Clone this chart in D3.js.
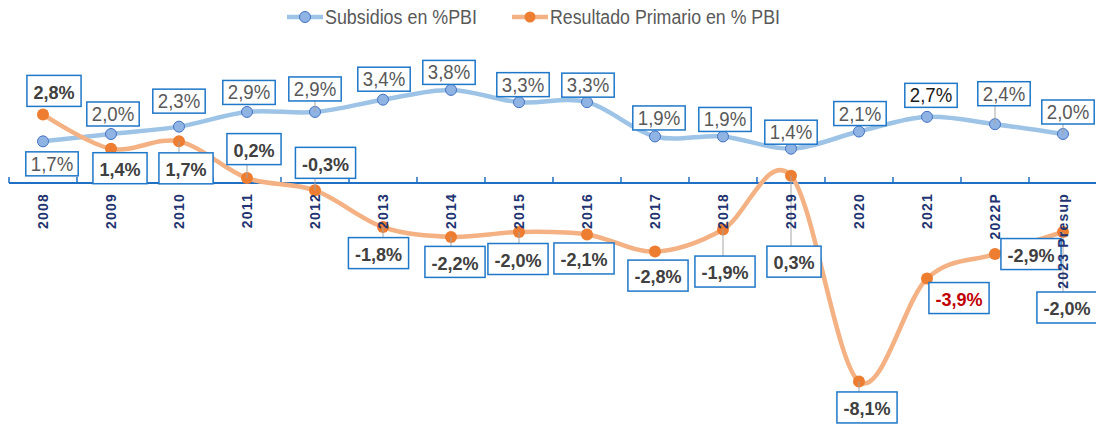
<!DOCTYPE html>
<html>
<head>
<meta charset="utf-8">
<script src="https://cdn.jsdelivr.net/npm/d3@7"></script>
<style>
  body { margin: 0; background: #fff; }
  text { font-family: "Liberation Sans", Arial, sans-serif; }
</style>
</head>
<body>
<div id="chart"></div>
<script>
// data
const years = ['2008','2009','2010','2011','2012','2013','2014','2015','2016','2017','2018','2019','2020','2021','2022P','2023 Presup'];
const subsidios = [1.7, 2.0, 2.3, 2.9, 2.9, 3.4, 3.8, 3.3, 3.3, 1.9, 1.9, 1.4, 2.1, 2.7, 2.4, 2.0];
const resultado = [2.8, 1.4, 1.7, 0.2, -0.3, -1.8, -2.2, -2.0, -2.1, -2.8, -1.9, 0.3, -8.1, -3.9, -2.9, -2.0];
const seriesNames = ['Subsidios en %PBI', 'Resultado Primario en % PBI'];

// where each data label sits, relative to its point (manual placement, like in Excel)
const subOffset = [[9,22.5],[2,-20],[0,-25.5],[2,-19.5],[0,-23],[1,-20.5],[-2,-17.5],[4,-17.5],[1,-17],[4,-18.5],[2,-17],[0,-16.5],[1,-18],[4,-21.5],[9,-30.5],[5,-22]];
const resOffset = [[11,-23.5],[9,19.5],[7,27],[7,-29],[10.5,-27.5],[-4.5,26],[4,25],[-1,27],[-3,24],[3,24],[2,42],[3,86],[8,26],[32,19.5],[36,0],[4,75.5]];
const subLeaders = [4, 14, 15];
const resLeaders = [2, 3, 4, 5, 6, 7, 10, 11, 12, 15];

const width = 1096, height = 424;

const x = d3.scaleBand().domain(years).range([9, 1097]);
const xi = d3.scaleLinear().domain([0, years.length]).range([9, 1097]);
const y = d3.scaleLinear().domain([-9, 5]).range([403.5, 60.5]);
const cx = i => x(years[i]) + x.bandwidth() / 2;

const fmt = d3.formatLocale({decimal: ',', thousands: '.', grouping: [3], currency: ['', ''], minus: '-'}).format('.1f');

const svg = d3.select('#chart').append('svg')
    .attr('width', width)
    .attr('height', height)
    .style('background', '#fff');

// zero axis line and ticks between categories
svg.append('line')
    .attr('x1', xi(0)).attr('x2', xi(years.length))
    .attr('y1', y(0)).attr('y2', y(0))
    .attr('stroke', '#1f6fc5')
    .attr('stroke-width', 2);

svg.selectAll('line.tk')
    .data(d3.range(years.length + 1))
    .enter().append('line')
    .attr('class', 'tk')
    .attr('x1', d => xi(d)).attr('x2', d => xi(d))
    .attr('y1', y(0)).attr('y2', y(0) - 6)
    .attr('stroke', '#1f6fc5')
    .attr('stroke-width', 1.5);

// smoothed lines
const line = d3.line()
    .x((d, i) => cx(i))
    .y(d => y(d))
    .curve(d3.curveCatmullRom.alpha(0));

svg.append('path')
    .datum(subsidios)
    .attr('d', line)
    .attr('fill', 'none')
    .attr('stroke', '#9dc3e6')
    .attr('stroke-width', 4.5);

svg.append('path')
    .datum(resultado)
    .attr('d', line)
    .attr('fill', 'none')
    .attr('stroke', '#f4b183')
    .attr('stroke-width', 4.5);

svg.selectAll('circle.sub')
    .data(subsidios)
    .enter().append('circle')
    .attr('class', 'sub')
    .attr('cx', (d, i) => cx(i))
    .attr('cy', d => y(d))
    .attr('r', 5.5)
    .attr('fill', '#8fb4e3')
    .attr('stroke', '#4472c4')
    .attr('stroke-width', 1);

svg.selectAll('circle.res')
    .data(resultado)
    .enter().append('circle')
    .attr('class', 'res')
    .attr('cx', (d, i) => cx(i))
    .attr('cy', d => y(d))
    .attr('r', 6)
    .attr('fill', '#ed7d31');

// data labels in boxes
const leaderG = svg.append('g');
const labelG = svg.append('g');

function drawLabels(values, offs, leaders, o) {
  values.forEach(function(v, i) {
    const px = cx(i), py = y(v);
    const lx = px + offs[i][0], ly = py + offs[i][1];
    const g = labelG.append('g');
    const rect = g.append('rect');
    const t = g.append('text')
        .attr('x', lx)
        .attr('y', ly + o.dy)
        .attr('dy', '0.35em')
        .attr('text-anchor', 'middle')
        .style('font-size', o.size + 'px')
        .style('font-weight', o.weight)
        .style('fill', o.color(i))
        .text(fmt(v) + '%');
    const tw = t.node().getComputedTextLength() * o.squeeze;
    t.attr('textLength', tw).attr('lengthAdjust', 'spacingAndGlyphs');
    const bw = tw + o.padX * 2, bh = o.boxH;
    rect.attr('x', lx - bw / 2).attr('y', ly - bh / 2)
        .attr('width', bw).attr('height', bh)
        .attr('fill', '#fff')
        .attr('stroke', '#1f77c8')
        .attr('stroke-width', 1.5);
    if (leaders.indexOf(i) >= 0) {
      const nx = Math.max(lx - bw / 2, Math.min(px, lx + bw / 2));
      const ny = Math.max(ly - bh / 2, Math.min(py, ly + bh / 2));
      leaderG.append('line')
          .attr('x1', px).attr('y1', py)
          .attr('x2', nx).attr('y2', ny)
          .attr('stroke', '#a6a6a6')
          .attr('stroke-width', 1);
    }
  });
}

drawLabels(subsidios, subOffset, subLeaders, {
  size: 20, weight: 'normal', squeeze: 0.93, padX: 5, boxH: 24, dy: 0,
  color: i => i === 13 ? '#1a1a1a' : '#595959'
});
drawLabels(resultado, resOffset, resLeaders, {
  size: 19, weight: 'bold', squeeze: 0.95, padX: 6.5, boxH: 31, dy: 1,
  color: i => i === 13 ? '#c00000' : '#404040'
});

// category labels, rotated
const xAxis = svg.append('g')
    .attr('transform', `translate(0,${y(0)})`)
    .call(d3.axisBottom(x).tickSize(0));
xAxis.select('.domain').remove();
xAxis.selectAll('.tick text')
    .attr('transform', 'rotate(-90)')
    .attr('text-anchor', 'end')
    .attr('x', -10)
    .attr('y', 0)
    .attr('dy', '0.35em')
    .style('font-size', '14px')
    .style('font-weight', 'bold')
    .style('letter-spacing', '1.2px')
    .style('fill', '#1f3470');

// legend
const legend = [
  {name: seriesNames[0], x: 287, line: '#9dc3e6', fill: '#8fb4e3', stroke: '#4472c4', len: 152},
  {name: seriesNames[1], x: 512, line: '#f4b183', fill: '#ed7d31', stroke: 'none', len: 230}
];
const lg = svg.selectAll('g.legend')
    .data(legend)
    .enter().append('g')
    .attr('class', 'legend')
    .attr('transform', d => `translate(${d.x},17)`);
lg.append('line')
    .attr('x1', 0).attr('x2', 36)
    .attr('stroke', d => d.line)
    .attr('stroke-width', 4.5);
lg.append('circle')
    .attr('cx', 18)
    .attr('r', 5.5)
    .attr('fill', d => d.fill)
    .attr('stroke', d => d.stroke);
lg.append('text')
    .attr('x', 38)
    .attr('dy', '0.35em')
    .attr('textLength', d => d.len)
    .attr('lengthAdjust', 'spacingAndGlyphs')
    .style('font-size', '20px')
    .style('fill', '#595959')
    .text(d => d.name);
</script>
</body>
</html>
